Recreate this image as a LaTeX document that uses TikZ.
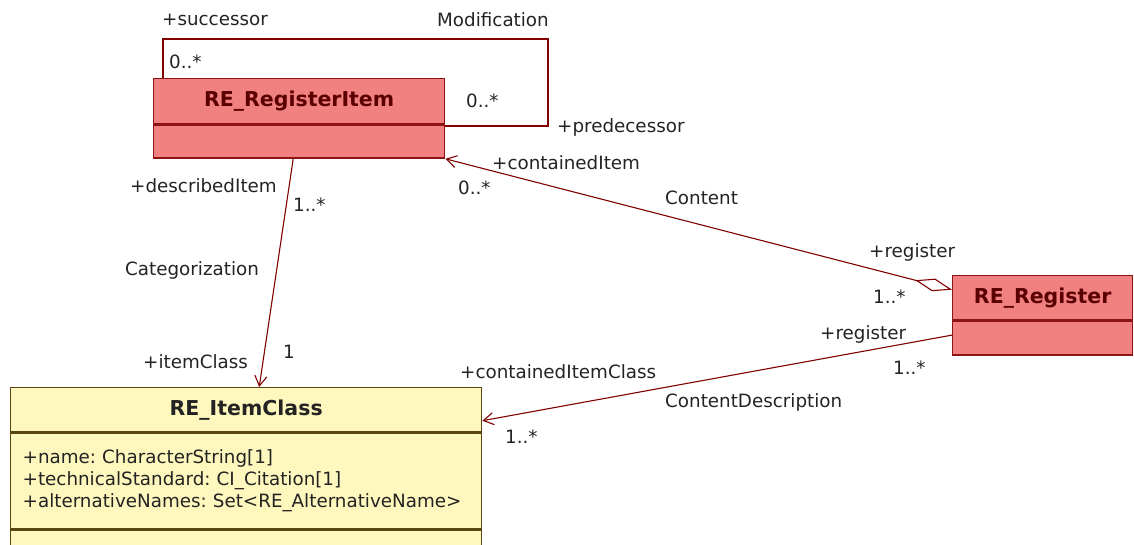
\documentclass[tikz,border=0pt]{standalone}
\usepackage{fontspec}
\setmainfont{DejaVu Sans}
\usepackage{xcolor}
\usetikzlibrary{arrows.meta,calc}

\definecolor{redfill}{RGB}{241,128,128}
\definecolor{redline}{RGB}{140,20,20}
\definecolor{redtext}{RGB}{90,0,0}
\definecolor{yelfill}{RGB}{255,248,190}
\definecolor{yelline}{RGB}{90,70,20}
\definecolor{assocred}{RGB}{128,0,0}
\definecolor{lblgray}{RGB}{35,35,35}

\begin{document}
\frenchspacing
\begin{tikzpicture}[x=1pt, y=-1pt,
    every node/.style={font=\fontsize{18.3pt}{22pt}\selectfont, text=lblgray},
    redbox/.style={rectangle, draw=redline, fill=redfill, line width=1.4pt, inner sep=0pt},
    yelbox/.style={rectangle, draw=yelline, fill=yelfill, line width=1.4pt, inner sep=0pt},
    title/.style={font=\fontsize{20.5pt}{22pt}\selectfont\bfseries},
    lbl/.style={anchor=west, inner sep=0pt},
    assoc/.style={draw=assocred, line width=1.1pt},
    openarr/.style={-{Straight Barb[length=10pt,width=12pt]}}]
	\useasboundingbox (0,0) rectangle (1134,544);
	\clip (0,0) rectangle (1134,544);
	
	% classes
	\node[redbox, title, text=redtext, minimum width=291pt, minimum height=45pt, anchor=north west] (item) at (153,78) {RE\_RegisterItem};
	\node[redbox, minimum width=291pt, minimum height=33pt, anchor=north] (itembody) at (item.south) {};
	
	\node[redbox, title, text=redtext, minimum width=180pt, minimum height=44pt, anchor=north west] (reg) at (952,275) {RE\_Register};
	\node[redbox, minimum width=180pt, minimum height=34pt, anchor=north] (regbody) at (reg.south) {};
	
	\node[yelbox, title, minimum width=471pt, minimum height=44pt, anchor=north west] (ichead) at (10,387) {RE\_ItemClass};
	\node[yelbox, minimum width=471pt, minimum height=96pt, text width=447pt, inner xsep=12pt, align=left, anchor=north] (icattr) at (ichead.south) {+name: CharacterString[1]\\+technicalStandard: CI\_Citation[1]\\+alternativeNames: Set<RE\_AlternativeName>};
	\node[yelbox, minimum width=471pt, minimum height=34pt, anchor=north] (icops) at (icattr.south) {};
	
	% Modification
	\coordinate (modne) at (548,39);
	\coordinate (modse) at (548,126);
	\draw[assoc] ([xshift=10pt]item.north west) |- (modne) -- (modse) -- (modse -| itembody.east);
	\node[lbl] (succ) at (162,20) {+successor};
	\node[lbl] (modlbl) at (437,20) {Modification};
	\node[lbl] (succm) at (169,62) {0..*};
	\node[lbl] (predm) at (466,101) {0..*};
	\node[lbl] (pred) at (557,127) {+predecessor};
	
	% Categorization
	\draw[assoc, openarr] ([xshift=-6pt]itembody.south) -- ([xshift=13pt]ichead.north);
	\node[lbl] (ditem) at (130,186) {+describedItem};
	\node[lbl] (ditemm) at (293,205) {1..*};
	\node[lbl] (catlbl) at (125,270) {Categorization};
	\node[lbl] (iclass) at (143,362) {+itemClass};
	\node[lbl] (iclassm) at (283,352) {1};
	
	% Content
	\draw[assoc, {Diamond[open, length=38pt, width=13pt]}-{Straight Barb[length=10pt,width=12pt]}] ([yshift=8pt]reg.west) -- (itembody.south east);
	\node[lbl] (citem) at (492,163) {+containedItem};
	\node[lbl] (citemm) at (458,188) {0..*};
	\node[lbl] (contlbl) at (665,198) {Content};
	\node[lbl] (rega) at (869,252) {+register};
	\node[lbl] (regam) at (873,297) {1..*};
	
	% ContentDescription
	\draw[assoc, openarr] ([yshift=3pt]regbody.west) -- ([yshift=-11pt]ichead.east);
	\node[lbl] (regb) at (820,334) {+register};
	\node[lbl] (regbm) at (893,368) {1..*};
	\node[lbl] (cic) at (460,372) {+containedItemClass};
	\node[lbl] (cdlbl) at (665,402) {ContentDescription};
	\node[lbl] (cicm) at (505,437) {1..*};
\end{tikzpicture}
\end{document}
